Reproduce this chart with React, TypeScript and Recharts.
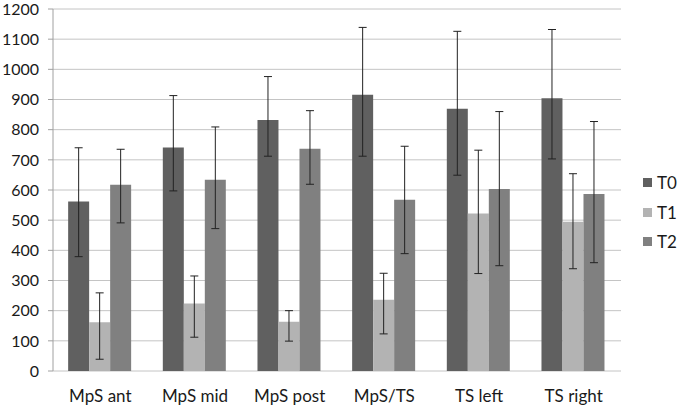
import { BarChart, Bar, XAxis, YAxis, CartesianGrid, ErrorBar } from 'recharts';

const categories = ['MpS ant', 'MpS mid', 'MpS post', 'MpS/TS', 'TS left', 'TS right'];

// bar heights
const t0 = [562, 741, 832, 916, 869, 904];
const t1 = [162, 224, 163, 236, 522, 495];
const t2 = [617, 634, 737, 568, 603, 587];

// whisker ends (low / high)
const t0Low = [379, 597, 712, 712, 649, 703];
const t0High = [740, 913, 976, 1139, 1126, 1132];
const t1Low = [39, 112, 99, 123, 323, 339];
const t1High = [259, 315, 200, 324, 732, 654];
const t2Low = [491, 472, 619, 389, 349, 359];
const t2High = [735, 809, 863, 745, 860, 827];

const yTicks = [0, 100, 200, 300, 400, 500, 600, 700, 800, 900, 1000, 1100, 1200];
const edgeTicks = [0, 1, 2, 3, 4, 5, 6];

const data = categories.map((name, i) => ({
  name,
  idx: i + 0.5,
  T0: t0[i],
  T1: t1[i],
  T2: t2[i],
  T0err: [t0[i] - t0Low[i], t0High[i] - t0[i]],
  T1err: [t1[i] - t1Low[i], t1High[i] - t1[i]],
  T2err: [t2[i] - t2Low[i], t2High[i] - t2[i]],
}));

const series = [
  { key: 'T0', color: '#606060' },
  { key: 'T1', color: '#b3b3b3' },
  { key: 'T2', color: '#808080' },
];

const font = 'Lato, "Open Sans", sans-serif';

export default function App() {
  return (
    <div style={{ position: 'relative', width: 684, height: 406, fontFamily: font }}>
      <style>{`body{margin:0}`}</style>
      <BarChart
        width={684}
        height={406}
        data={data}
        margin={{ top: 9, right: 63, left: 0, bottom: 0 }}
        barCategoryGap="16%"
        barGap={0}
      >
        <CartesianGrid xAxisId="cat" vertical={false} stroke="#c4c4c4" />
        <XAxis
          xAxisId="cat"
          dataKey="name"
          height={35}
          axisLine={false}
          tickLine={false}
          tickSize={0}
          tickMargin={19}
          tick={{ fill: '#1a1a1a', fontSize: 17, fontFamily: font }}
        />
        <XAxis
          xAxisId="edge"
          type="number"
          dataKey="idx"
          domain={[0, 6]}
          ticks={edgeTicks}
          height={0}
          tickSize={6}
          stroke="#a0a0a0"
          tickFormatter={() => ''}
        />
        <YAxis
          width={53}
          domain={[0, 1200]}
          ticks={yTicks}
          interval={0}
          tickSize={5}
          tickMargin={9}
          stroke="#a0a0a0"
          tick={{ fill: '#1a1a1a', fontSize: 16, fontFamily: font }}
        />
        {series.map((s) => (
          <Bar key={s.key} xAxisId="cat" dataKey={s.key} fill={s.color} isAnimationActive={false}>
            <ErrorBar dataKey={`${s.key}err`} width={4} strokeWidth={1} stroke="#222" direction="y" />
          </Bar>
        ))}
      </BarChart>
      <div style={{ position: 'absolute', left: 643, top: 168 }}>
        {series.map((s) => (
          <div key={s.key} style={{ display: 'flex', alignItems: 'center', height: 29.5 }}>
            <div style={{ width: 9, height: 9, background: s.color, marginRight: 5 }} />
            <span style={{ fontSize: 17, color: '#1a1a1a' }}>{s.key}</span>
          </div>
        ))}
      </div>
    </div>
  );
}
